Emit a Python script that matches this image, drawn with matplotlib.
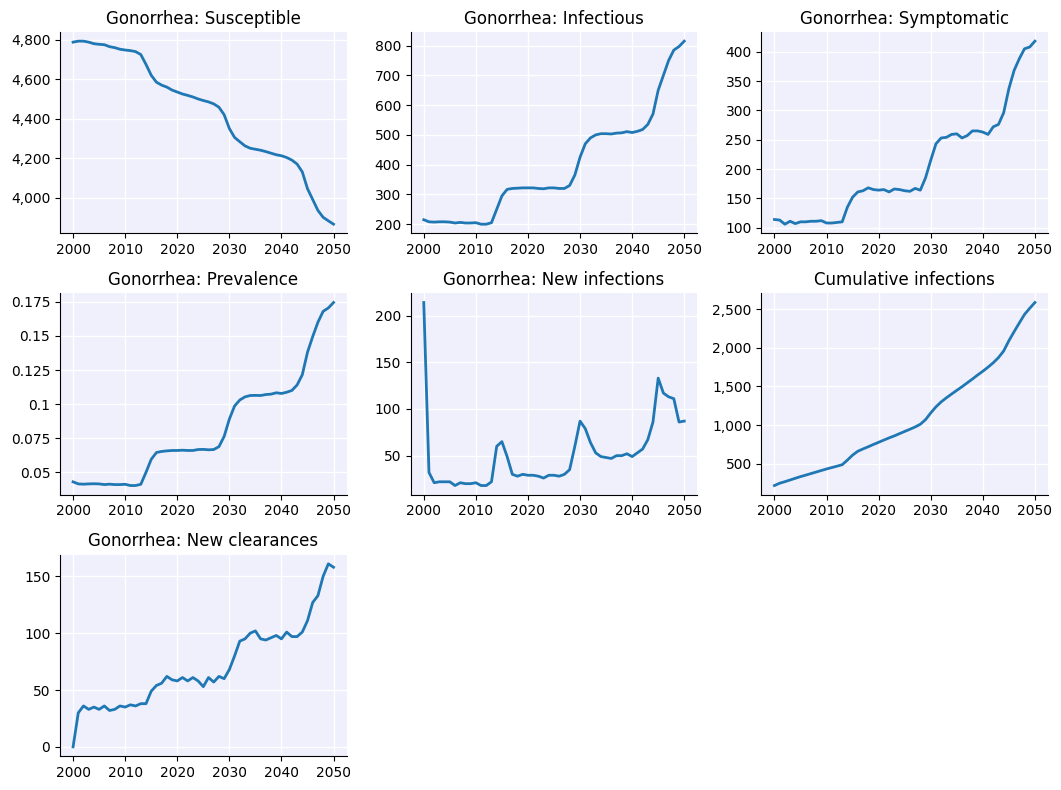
import matplotlib
matplotlib.use("Agg")
import matplotlib.pyplot as plt
from matplotlib.ticker import FuncFormatter

years = list(range(2000, 2051))

susceptible = [4788, 4793, 4793, 4788, 4780, 4777, 4775, 4765, 4760, 4752,
               4748, 4745, 4740, 4725, 4675, 4620, 4585, 4570, 4560, 4545,
               4535, 4525, 4518, 4510, 4500, 4492, 4485, 4475, 4458, 4420,
               4350, 4305, 4283, 4262, 4250, 4245, 4240, 4233, 4225, 4217,
               4212, 4203, 4190, 4170, 4130, 4045, 3990, 3935, 3900, 3882,
               3865]

infectious = [215, 208, 207, 208, 208, 207, 204, 206, 204, 204,
              205, 200, 200, 205, 250, 295, 317, 320, 321, 322,
              322, 322, 320, 319, 322, 322, 320, 320, 330, 365,
              425, 470, 490, 500, 504, 504, 503, 506, 507, 511,
              508, 512, 518, 535, 570, 650, 700, 750, 785, 797,
              815]

symptomatic = [114, 113, 106, 111, 107, 110, 110, 111, 111, 112,
               108, 108, 109, 110, 135, 152, 161, 163, 168, 165,
               164, 165, 161, 166, 165, 163, 162, 167, 164, 185,
               215, 243, 253, 254, 259, 260, 253, 257, 265, 265,
               263, 259, 272, 276, 296, 337, 368, 388, 405, 408,
               418]

prevalence = [0.043, 0.0415, 0.0413, 0.0415, 0.0416, 0.0415, 0.041, 0.0413, 0.041, 0.041,
              0.0412, 0.0403, 0.0403, 0.0412, 0.050, 0.0595, 0.0645, 0.0653, 0.0657, 0.066,
              0.066, 0.0662, 0.066, 0.066, 0.0667, 0.0668, 0.0665, 0.0667, 0.0688, 0.0763,
              0.089, 0.0986, 0.103, 0.1053, 0.1063, 0.1064, 0.1063, 0.107, 0.1073, 0.1083,
              0.1078, 0.1087, 0.110, 0.114, 0.1215, 0.138, 0.1495, 0.160, 0.168, 0.1705,
              0.1745]

new_infections = [214, 32, 21, 22, 22, 22, 18, 21, 20, 20,
                  21, 18, 18, 22, 60, 65, 49, 30, 28, 30,
                  29, 29, 28, 26, 29, 29, 28, 30, 35, 60,
                  87, 79, 64, 53, 49, 48, 47, 50, 50, 52,
                  49, 53, 57, 67, 86, 133, 117, 113, 111, 86,
                  87]

cumulative_infections = [215, 245, 265, 287, 309, 331, 350, 370, 390, 410,
                         430, 448, 466, 485, 545, 610, 660, 690, 718, 748,
                         776, 805, 833, 859, 888, 917, 945, 975, 1010, 1070,
                         1157, 1236, 1300, 1353, 1402, 1450, 1497, 1547, 1597, 1649,
                         1698, 1751, 1808, 1875, 1961, 2094, 2211, 2324, 2435, 2515,
                         2590]

new_clearances = [0, 30, 36, 33, 35, 33, 36, 32, 33, 36,
                  35, 37, 36, 38, 38, 49, 54, 56, 62, 59,
                  58, 61, 58, 61, 58, 53, 61, 57, 62, 60,
                  68, 80, 93, 95, 100, 102, 95, 94, 96, 98,
                  95, 101, 97, 97, 101, 111, 127, 133, 150, 161,
                  158]

titles = ["Gonorrhea: Susceptible", "Gonorrhea: Infectious", "Gonorrhea: Symptomatic",
          "Gonorrhea: Prevalence", "Gonorrhea: New infections", "Cumulative infections",
          "Gonorrhea: New clearances"]
series = [susceptible, infectious, symptomatic, prevalence, new_infections,
          cumulative_infections, new_clearances]

fig, axes = plt.subplots(3, 3, figsize=(10.61, 7.90), dpi=100)
axes = axes.ravel()
fmt = FuncFormatter(lambda v, p: "{:,g}".format(v))
for ax, title, vals in zip(axes, titles, series):
    ax.set_facecolor("#f0f0fc")
    ax.plot(years, vals, color="#1f77b4", lw=2)
    ax.set_title(title, fontsize=12)
    ax.grid(True, color="white", lw=1)
    ax.set_axisbelow(True)
    ax.spines["top"].set_visible(False)
    ax.spines["right"].set_visible(False)
    ax.yaxis.set_major_formatter(fmt)
    ax.set_xticks([2000, 2010, 2020, 2030, 2040, 2050])
for ax in axes[len(series):]:
    ax.set_visible(False)

fig.subplots_adjust(left=0.0566, right=0.9877, top=0.9595, bottom=0.043,
                    wspace=0.224, hspace=0.298)
fig.savefig("out.png", dpi=100)
